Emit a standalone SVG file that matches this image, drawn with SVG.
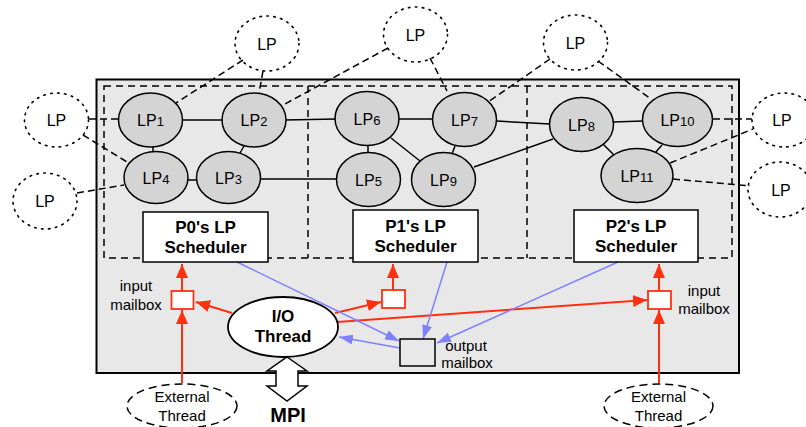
<svg xmlns="http://www.w3.org/2000/svg" width="806" height="427" viewBox="0 0 806 427">
<style>
text{font-family:"Liberation Sans",Arial,sans-serif;fill:#000}
.lp{fill:#d4d4d4;stroke:#000;stroke-width:1.5}
.lpt{font-size:16px;text-anchor:middle}
.sub{font-size:13px}
.ext{fill:none;stroke:#000;stroke-width:1.6;stroke-dasharray:1.6 5.4;stroke-linecap:round}
.solid{stroke:#000;stroke-width:1.5;fill:none}
.dash{stroke:#000;stroke-width:1.5;fill:none;stroke-dasharray:7 4}
.red{stroke:#ff3010;stroke-width:2;fill:none}
.blue{stroke:#8080ff;stroke-width:1.5;fill:none}
.sched{fill:#fff;stroke:#000;stroke-width:1.5}
.bold{font-weight:bold;font-size:17px;text-anchor:middle}
.lbl{font-size:15px;text-anchor:middle}
</style>
<defs>
<marker id="ar" viewBox="0 0 14 12" refX="14" refY="6" markerWidth="14" markerHeight="12" orient="auto" markerUnits="userSpaceOnUse"><path d="M0,0 L14,6 L0,12 z" fill="#ff3010"/></marker>
<marker id="ab" viewBox="0 0 14 10" refX="14" refY="5" markerWidth="14" markerHeight="10" orient="auto" markerUnits="userSpaceOnUse"><path d="M0,0 L14,5 L0,10 z" fill="#8080ff"/></marker>
</defs>
<g id="container">
<rect x="96.5" y="79.5" width="642.5" height="293.5" fill="#e8e8e8" stroke="#000" stroke-width="2"/>
<rect x="104" y="86" width="628" height="172" fill="none" stroke="#000" stroke-width="1.5" stroke-dasharray="7 5"/>
<line x1="308" y1="86" x2="308" y2="258" stroke="#000" stroke-width="1.5" stroke-dasharray="7 5"/>
<line x1="527" y1="86" x2="527" y2="258" stroke="#000" stroke-width="1.5" stroke-dasharray="7 5"/>
</g>
<g id="connectors">
<line class="solid" x1="182" y1="120" x2="223" y2="120"/>
<line class="solid" x1="285" y1="120" x2="336" y2="119"/>
<line class="solid" x1="398" y1="119" x2="433" y2="119"/>
<line class="solid" x1="496" y1="121" x2="550" y2="124"/>
<line class="solid" x1="613" y1="122" x2="643" y2="121"/>
<line class="solid" x1="153" y1="146" x2="153" y2="152"/>
<line class="solid" x1="244" y1="146" x2="240" y2="153"/>
<line class="solid" x1="187" y1="180" x2="197" y2="180"/>
<line class="solid" x1="260" y1="179" x2="337" y2="179"/>
<line class="solid" x1="368" y1="145" x2="368" y2="154"/>
<line class="solid" x1="391" y1="138" x2="420" y2="161"/>
<line class="solid" x1="455" y1="146" x2="452" y2="154"/>
<line class="solid" x1="474" y1="167" x2="553" y2="139"/>
<line class="solid" x1="603" y1="144" x2="614" y2="155"/>
<line class="solid" x1="662" y1="145" x2="655" y2="153"/>
<line class="dash" x1="243" y1="60" x2="176" y2="103"/>
<line class="dash" x1="263" y1="71" x2="259" y2="93"/>
<line class="dash" x1="388" y1="48" x2="283" y2="105"/>
<line class="dash" x1="430" y1="58" x2="447" y2="91"/>
<line class="dash" x1="550" y1="59" x2="488" y2="102"/>
<line class="dash" x1="598" y1="61" x2="651" y2="99"/>
<line class="dash" x1="89" y1="119" x2="118" y2="119"/>
<line class="dash" x1="83" y1="135" x2="127" y2="162"/>
<line class="dash" x1="77" y1="193" x2="124" y2="185"/>
<line class="dash" x1="713" y1="119" x2="752" y2="119"/>
<line class="dash" x1="670" y1="163" x2="753" y2="129"/>
<line class="dash" x1="673" y1="179" x2="750" y2="186"/>
<line class="red" x1="182" y1="383" x2="182" y2="310" marker-end="url(#ar)"/>
<line class="red" x1="182" y1="291" x2="182" y2="264" marker-end="url(#ar)"/>
<line class="red" x1="232" y1="313" x2="196" y2="302" marker-end="url(#ar)"/>
<line class="red" x1="335" y1="313" x2="381" y2="302" marker-end="url(#ar)"/>
<line class="red" x1="337" y1="322" x2="647" y2="300" marker-end="url(#ar)"/>
<line class="red" x1="393" y1="290" x2="393" y2="264" marker-end="url(#ar)"/>
<line class="red" x1="659" y1="383" x2="659" y2="310" marker-end="url(#ar)"/>
<line class="red" x1="659" y1="291" x2="659" y2="264" marker-end="url(#ar)"/>
<line class="blue" x1="237" y1="262" x2="399" y2="341" marker-end="url(#ab)"/>
<line class="blue" x1="447" y1="262" x2="423" y2="339" marker-end="url(#ab)"/>
<line class="blue" x1="618" y1="262" x2="437" y2="343" marker-end="url(#ab)"/>
<line class="blue" x1="400" y1="348" x2="339" y2="337" marker-end="url(#ab)"/>
</g>
<g id="lp1"><ellipse class="lp" cx="150.5" cy="120" rx="32" ry="27"/><text class="lpt" x="150.5" y="126">LP<tspan class="sub">1</tspan></text></g>
<g id="lp2"><ellipse class="lp" cx="254" cy="120" rx="32" ry="27"/><text class="lpt" x="254" y="126">LP<tspan class="sub">2</tspan></text></g>
<g id="lp4"><ellipse class="lp" cx="156" cy="177.5" rx="32" ry="26"/><text class="lpt" x="156" y="184">LP<tspan class="sub">4</tspan></text></g>
<g id="lp3"><ellipse class="lp" cx="228.5" cy="177.5" rx="32" ry="26"/><text class="lpt" x="228.5" y="184">LP<tspan class="sub">3</tspan></text></g>
<g id="lp6"><ellipse class="lp" cx="367" cy="118.5" rx="32" ry="27"/><text class="lpt" x="367" y="125">LP<tspan class="sub">6</tspan></text></g>
<g id="lp7"><ellipse class="lp" cx="464.5" cy="119.5" rx="32" ry="27"/><text class="lpt" x="464.5" y="126">LP<tspan class="sub">7</tspan></text></g>
<g id="lp5"><ellipse class="lp" cx="368.5" cy="179.5" rx="32" ry="27"/><text class="lpt" x="368.5" y="186">LP<tspan class="sub">5</tspan></text></g>
<g id="lp9"><ellipse class="lp" cx="443.5" cy="179.5" rx="32" ry="27"/><text class="lpt" x="443.5" y="186">LP<tspan class="sub">9</tspan></text></g>
<g id="lp8"><ellipse class="lp" cx="581.5" cy="124.5" rx="32" ry="27"/><text class="lpt" x="581.5" y="131">LP<tspan class="sub">8</tspan></text></g>
<g id="lp10"><ellipse class="lp" cx="677.5" cy="119.5" rx="35" ry="27"/><text class="lpt" x="677.5" y="126">LP<tspan class="sub">10</tspan></text></g>
<g id="lp11"><ellipse class="lp" cx="637" cy="175.5" rx="36" ry="27"/><text class="lpt" x="637" y="182">LP<tspan class="sub">11</tspan></text></g>
<g id="ext-lp-a"><ellipse class="ext" cx="267" cy="43.5" rx="32" ry="27.5"/><text class="lpt" x="267" y="49.5">LP</text></g>
<g id="ext-lp-b"><ellipse class="ext" cx="415.5" cy="34.5" rx="32" ry="27.5"/><text class="lpt" x="415.5" y="40.5">LP</text></g>
<g id="ext-lp-c"><ellipse class="ext" cx="575.5" cy="42.5" rx="32" ry="27.5"/><text class="lpt" x="575.5" y="48.5">LP</text></g>
<g id="ext-lp-d"><ellipse class="ext" cx="56.5" cy="120" rx="32" ry="27"/><text class="lpt" x="56.5" y="126">LP</text></g>
<g id="ext-lp-e"><ellipse class="ext" cx="45" cy="201" rx="32" ry="28"/><text class="lpt" x="45" y="207">LP</text></g>
<g id="ext-lp-f"><ellipse class="ext" cx="784" cy="120" rx="32" ry="27"/><text class="lpt" x="782" y="126">LP</text></g>
<g id="ext-lp-g"><ellipse class="ext" cx="780" cy="189.5" rx="32" ry="27.5"/><text class="lpt" x="781" y="195.5">LP</text></g>
<g id="p0-sched"><rect class="sched" x="143" y="212" width="125" height="50"/><text class="bold" x="205.5" y="233">P0's LP</text><text class="bold" x="205.5" y="253">Scheduler</text></g>
<g id="p1-sched"><rect class="sched" x="353" y="210" width="125" height="52"/><text class="bold" x="415.5" y="232">P1's LP</text><text class="bold" x="415.5" y="252">Scheduler</text></g>
<g id="p2-sched"><rect class="sched" x="574" y="210" width="124" height="52"/><text class="bold" x="636" y="232">P2's LP</text><text class="bold" x="636" y="252">Scheduler</text></g>
<g id="in-mbox-0"><rect x="171.5" y="291" width="22" height="18" fill="#fff" stroke="#ff3010" stroke-width="1.8"/><text class="lbl" x="136" y="291">input</text><text class="lbl" x="136" y="310">mailbox</text></g>
<g id="in-mbox-1"><rect x="382" y="290" width="23" height="18" fill="#fff" stroke="#ff3010" stroke-width="1.8"/></g>
<g id="in-mbox-2"><rect x="648" y="291" width="23" height="18" fill="#fff" stroke="#ff3010" stroke-width="1.8"/><text class="lbl" x="704" y="296">input</text><text class="lbl" x="704" y="314">mailbox</text></g>
<g id="out-mbox"><rect x="400" y="339" width="35" height="27" fill="#e8e8e8" stroke="#000" stroke-width="1.5"/><text class="lbl" x="466" y="351">output</text><text class="lbl" x="467" y="368">mailbox</text></g>
<g id="io-thread"><ellipse cx="283" cy="327" rx="55" ry="30" fill="#fff" stroke="#000" stroke-width="1.8"/><text class="bold" x="283" y="322">I/O</text><text class="bold" x="283" y="342">Thread</text></g>
<g id="mpi"><polygon points="287,357 307,371 298,371 298,386 307,386 287,401 267,386 276,386 276,371 267,371" fill="#fff" stroke="#000" stroke-width="1.5"/><text x="288" y="422" font-size="20" font-weight="bold" text-anchor="middle">MPI</text></g>
<g id="ext-thread-0"><ellipse cx="182" cy="406" rx="55" ry="22" fill="none" stroke="#000" stroke-width="1.5" stroke-dasharray="8 5"/><text class="lbl" x="182" y="402">External</text><text class="lbl" x="182" y="421">Thread</text></g>
<g id="ext-thread-2"><ellipse cx="658.5" cy="406" rx="54.5" ry="22" fill="none" stroke="#000" stroke-width="1.5" stroke-dasharray="8 5"/><text class="lbl" x="658.5" y="402">External</text><text class="lbl" x="658.5" y="421">Thread</text></g>
</svg>
